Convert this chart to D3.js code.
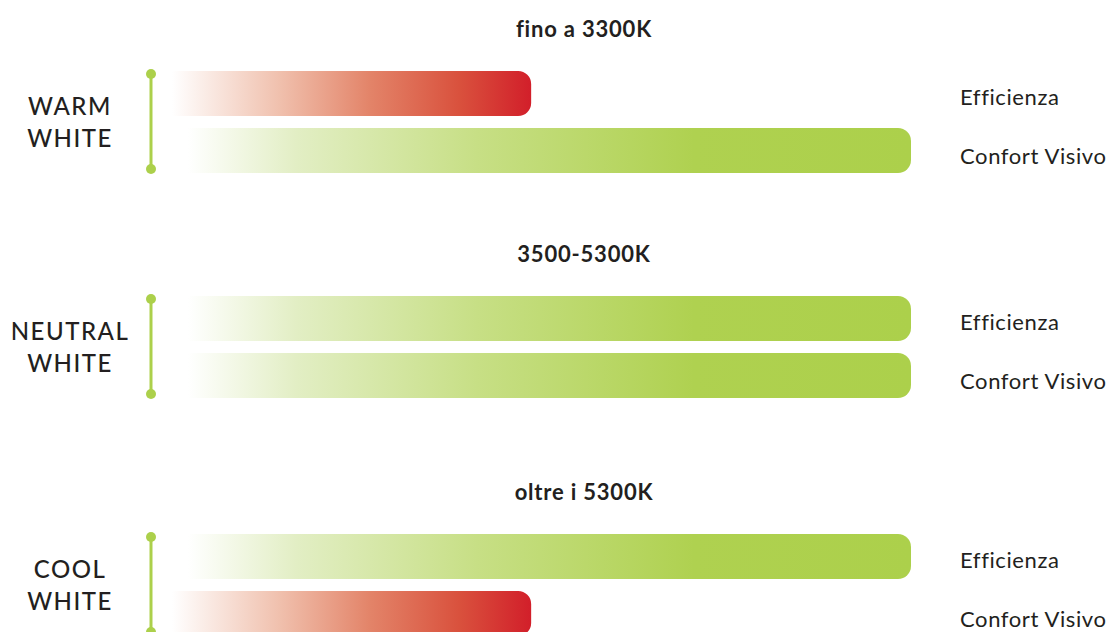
<!DOCTYPE html>
<html>
<head>
    <meta charset="UTF-8">
    <title>Temperatura colore</title>
    <script src="https://d3js.org/d3.v7.min.js"></script>
    <style type="text/css">
        body { margin: 0; background: #fff; }
        text { font-family: Lato, "Open Sans", sans-serif; fill: #231f20; }
        .title { font-size: 22px; font-weight: 700; letter-spacing: 0.8px; }
        .group { font-size: 24px; font-weight: 500; letter-spacing: 1.5px; }
        .metric { font-size: 22px; font-weight: 400; letter-spacing: 0.6px; }
    </style>
</head>
<body>
<script type="text/javascript">
    // data
    var groups = ["WARM WHITE", "NEUTRAL WHITE", "COOL WHITE"];
    var ranges = ["fino a 3300K", "3500-5300K", "oltre i 5300K"];
    var metrics = ["Efficienza", "Confort Visivo"];
    var efficienza = [48.6, 100, 100];
    var confort = [100, 100, 48.6];

    var width = 1112, height = 632;
    var barH = 45, barGap = 12, radius = 13;

    var svg = d3.select("body").append("svg")
        .attr("width", width)
        .attr("height", height);

    var x = d3.scaleLinear().domain([0, 100]).range([172, 911]);
    // top of each group's first bar
    var y = d3.scaleOrdinal().domain(groups).range([71, 296, 534]);

    var defs = svg.append("defs");
    var red = defs.append("linearGradient").attr("id", "gradRed");
    red.selectAll("stop")
        .data([[0, "#ffffff"], [0.3, "#f0c0ad"], [0.55, "#e38469"], [0.8, "#d9513d"], [1, "#d21f2a"]])
        .enter().append("stop")
        .attr("offset", function (d) { return d[0]; })
        .attr("stop-color", function (d) { return d[1]; });
    var green = defs.append("linearGradient").attr("id", "gradGreen");
    green.selectAll("stop")
        .data([[0, "#ffffff"], [0.15, "#e2eec4"], [0.4, "#c7df85"], [0.7, "#afd150"], [1, "#acd04b"]])
        .enter().append("stop")
        .attr("offset", function (d) { return d[0]; })
        .attr("stop-color", function (d) { return d[1]; });

    function barPath(x0, x1, top, h, r) {
        return "M" + x0 + "," + top +
            "H" + (x1 - r) +
            "A" + r + "," + r + " 0 0 1 " + x1 + "," + (top + r) +
            "V" + (top + h - r) +
            "A" + r + "," + r + " 0 0 1 " + (x1 - r) + "," + (top + h) +
            "H" + x0 + "Z";
    }

    var rows = groups.map(function (g, i) {
        return { group: g, range: ranges[i], values: [efficienza[i], confort[i]] };
    });

    var g = svg.selectAll(".row")
        .data(rows)
        .enter().append("g")
        .attr("class", "row");

    g.append("text")
        .attr("class", "title")
        .attr("x", 584)
        .attr("y", function (d) { return y(d.group) - 43; })
        .attr("text-anchor", "middle")
        .attr("dominant-baseline", "central")
        .text(function (d) { return d.range; });

    // bracket
    g.append("line")
        .attr("x1", 151).attr("x2", 151)
        .attr("y1", function (d) { return y(d.group) + 3; })
        .attr("y2", function (d) { return y(d.group) + barH * 2 + barGap - 4; })
        .attr("stroke", "#acd04b")
        .attr("stroke-width", 3);
    g.selectAll(".dot")
        .data(function (d) { return [y(d.group) + 3, y(d.group) + barH * 2 + barGap - 4]; })
        .enter().append("circle")
        .attr("cx", 151)
        .attr("cy", function (d) { return d; })
        .attr("r", 5)
        .attr("fill", "#acd04b");

    // group label, two lines
    g.append("text")
        .attr("class", "group")
        .attr("text-anchor", "middle")
        .selectAll("tspan")
        .data(function (d) {
            var c = y(d.group) + barH + barGap / 2;
            return d.group.split(" ").map(function (w, k) { return { w: w, y: c - 7 + k * 32 }; });
        })
        .enter().append("tspan")
        .attr("x", 70)
        .attr("y", function (d) { return d.y; })
        .text(function (d) { return d.w; });

    // bars
    g.selectAll(".bar")
        .data(function (d) {
            return d.values.map(function (v, k) { return { v: v, top: y(d.group) + k * (barH + barGap), k: k }; });
        })
        .enter().append("path")
        .attr("class", "bar")
        .attr("fill", function (d) { return d.v < 100 ? "url(#gradRed)" : "url(#gradGreen)"; })
        .attr("d", function (d) {
            var x0 = d.v < 100 ? x(0) : x(0) + 16;
            return barPath(x0, x(d.v), d.top, barH, radius);
        });

    // metric labels
    g.selectAll(".metric")
        .data(function (d) {
            return metrics.map(function (m, k) { return { m: m, top: y(d.group) + k * (barH + barGap), k: k }; });
        })
        .enter().append("text")
        .attr("class", "metric")
        .attr("x", 960)
        .attr("y", function (d) { return d.top + barH / 2 + (d.k === 0 ? 3 : 5); })
        .attr("dominant-baseline", "central")
        .text(function (d) { return d.m; });
</script>
</body>
</html>
